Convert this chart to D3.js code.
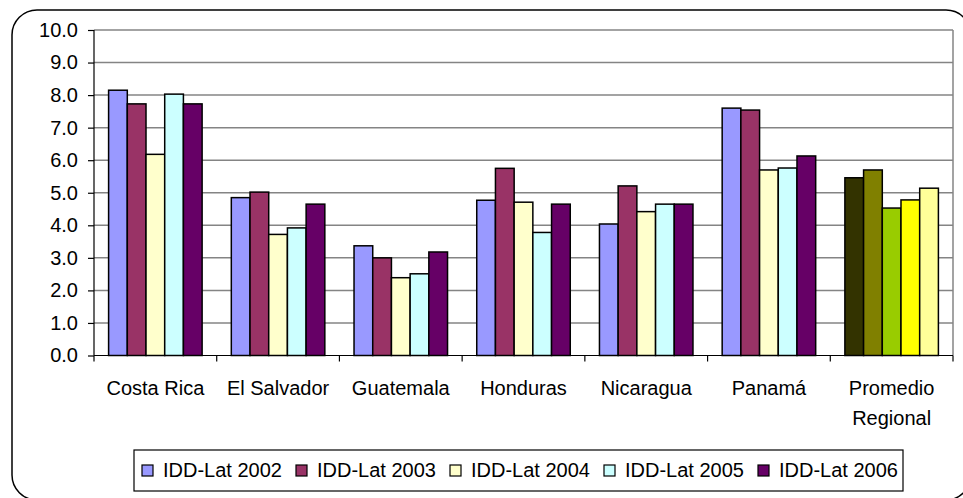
<!DOCTYPE html>
<html>
<head>
<meta charset="utf-8">
<script src="https://cdnjs.cloudflare.com/ajax/libs/d3/7.8.5/d3.min.js"></script>
<style>
  html, body { margin: 0; padding: 0; background: #fff; }
  svg { display: block; font-family: "Liberation Sans", Arial, sans-serif; }
</style>
</head>
<body>
<svg id="chart" width="963" height="498"></svg>
<script>
// ---- data ----
const categories = ["Costa Rica", "El Salvador", "Guatemala", "Honduras", "Nicaragua", "Panamá", "Promedio Regional"];
const seriesNames = ["IDD-Lat 2002", "IDD-Lat 2003", "IDD-Lat 2004", "IDD-Lat 2005", "IDD-Lat 2006"];
const s2002 = [8.15, 4.85, 3.37, 4.77, 4.04, 7.60, 5.46];
const s2003 = [7.73, 5.02, 3.00, 5.75, 5.21, 7.54, 5.70];
const s2004 = [6.18, 3.72, 2.39, 4.71, 4.42, 5.70, 4.53];
const s2005 = [8.03, 3.92, 2.51, 3.78, 4.65, 5.76, 4.78];
const s2006 = [7.73, 4.65, 3.18, 4.65, 4.65, 6.13, 5.14];
const seriesColors = ["#9999FF", "#993366", "#FFFFCC", "#CCFFFF", "#660066"];
const regionalColors = ["#333300", "#808000", "#99CC00", "#FFFF00", "#FFFF99"];
const yTicks = [0, 1, 2, 3, 4, 5, 6, 7, 8, 9, 10];

const seriesValues = [s2002, s2003, s2004, s2005, s2006];

const svg = d3.select("#chart");
const W = 963, H = 498;
const plot = { left: 94, right: 953, top: 30, bottom: 355.5 };

// outer rounded frame
svg.append("rect")
  .attr("x", 12).attr("y", 10)
  .attr("width", 959).attr("height", 490)
  .attr("rx", 25).attr("ry", 25)
  .attr("fill", "#fff").attr("stroke", "#000").attr("stroke-width", 1.5);

const x0 = d3.scaleBand().domain(categories).range([plot.left, plot.right]).padding(0);
const groupPad = 14.6;
const x1 = d3.scaleBand().domain(d3.range(seriesNames.length))
  .range([groupPad, x0.bandwidth() - groupPad]).padding(0);
const y = d3.scaleLinear().domain([0, 10]).range([plot.bottom, plot.top]);

// gridlines
svg.append("g").selectAll("line").data(yTicks.filter(d => d > 0)).join("line")
  .attr("x1", plot.left).attr("x2", plot.right)
  .attr("y1", d => y(d)).attr("y2", d => y(d))
  .attr("stroke", "#848484").attr("stroke-width", 1.5);

// right plot border
svg.append("line")
  .attr("x1", plot.right).attr("x2", plot.right)
  .attr("y1", plot.top).attr("y2", plot.bottom)
  .attr("stroke", "#848484").attr("stroke-width", 1.5);

// bars
const groups = svg.append("g").selectAll("g").data(categories).join("g")
  .attr("transform", d => `translate(${x0(d)},0)`);
groups.selectAll("rect")
  .data((c, ci) => seriesValues.map((vals, si) => ({ ci, si, v: vals[ci] })))
  .join("rect")
  .attr("x", d => x1(d.si))
  .attr("width", x1.bandwidth())
  .attr("y", d => y(d.v))
  .attr("height", d => y(0) - y(d.v))
  .attr("fill", d => d.ci === categories.length - 1 ? regionalColors[d.si] : seriesColors[d.si])
  .attr("stroke", "#000").attr("stroke-width", 1.5);

// y axis
const yAxis = d3.axisLeft(y).tickValues(yTicks).tickFormat(d3.format(".1f")).tickSize(6).tickPadding(10);
const gy = svg.append("g").attr("transform", `translate(${plot.left},0)`).call(yAxis);
gy.select(".domain").attr("stroke", "#000").attr("stroke-width", 1.2).attr("d", `M0,${plot.top}V${plot.bottom}`);
gy.selectAll(".tick line").attr("stroke", "#000").attr("stroke-width", 1.2);
gy.selectAll(".tick text").attr("font-size", 20).attr("fill", "#000")
  .attr("font-family", "'Liberation Sans', Arial, sans-serif");

// x axis line
svg.append("line")
  .attr("x1", plot.left).attr("x2", plot.right)
  .attr("y1", plot.bottom).attr("y2", plot.bottom)
  .attr("stroke", "#000").attr("stroke-width", 1.2);
// category boundary ticks
const bounds = categories.map(c => x0(c)).concat([plot.right]);
svg.append("g").selectAll("line").data(bounds).join("line")
  .attr("x1", d => d).attr("x2", d => d)
  .attr("y1", plot.bottom).attr("y2", plot.bottom + 6)
  .attr("stroke", "#000").attr("stroke-width", 1.2);

// category labels
const xl = svg.append("g").selectAll("text").data(categories).join("text")
  .attr("x", d => x0(d) + x0.bandwidth() / 2)
  .attr("y", 395)
  .attr("text-anchor", "middle")
  .attr("font-size", 20).attr("fill", "#000");
xl.each(function(d) {
  const t = d3.select(this);
  const parts = d === "Promedio Regional" ? ["Promedio", "Regional"] : [d];
  parts.forEach((p, i) => {
    t.append("tspan").attr("x", x0(d) + x0.bandwidth() / 2).attr("dy", i === 0 ? 0 : 30).text(p);
  });
});

// legend
const legend = svg.append("g");
legend.append("rect")
  .attr("x", 134).attr("y", 450).attr("width", 769).attr("height", 41)
  .attr("fill", "#fff").attr("stroke", "#000").attr("stroke-width", 1.2);
const li = legend.selectAll("g").data(seriesNames).join("g")
  .attr("transform", (d, i) => `translate(${142 + i * 154},0)`);
li.append("rect")
  .attr("x", 0).attr("y", 465).attr("width", 11).attr("height", 11)
  .attr("fill", (d, i) => seriesColors[i]).attr("stroke", "#000").attr("stroke-width", 1.2);
li.append("text")
  .attr("x", 21).attr("y", 477)
  .attr("font-size", 20).attr("fill", "#000")
  .text(d => d);
</script>
</body>
</html>
